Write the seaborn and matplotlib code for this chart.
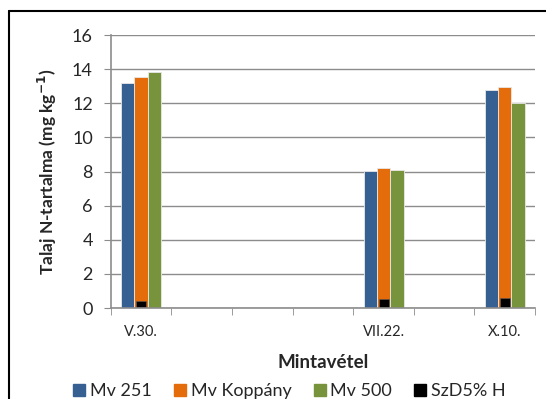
import pandas as pd
import seaborn as sns
import matplotlib.pyplot as plt
from matplotlib.lines import Line2D
from matplotlib.ticker import FixedLocator

slots = ["s0", "s1", "s2", "s3", "s4", "s5", "s6"]
slot_labels = ["V.30.", "", "", "", "VII.22.", "", "X.10."]
sampled = ["s0", "s4", "s6"]
mv251 = [13.2, 8.05, 12.8]
koppany = [13.55, 8.18, 12.95]
mv500 = [13.85, 8.12, 12.0]
szd5 = [0.43, 0.53, 0.57]

varieties = ["Mv 251", "Mv Koppány", "Mv 500"]
colors = ["#376092", "#E46C0A", "#77933C"]

rows = []
for name, vals in zip(varieties, [mv251, koppany, mv500]):
    for s, v in zip(sampled, vals):
        rows.append({"slot": s, "fajta": name, "N": v})
df = pd.DataFrame(rows)
df_szd = pd.DataFrame({"slot": sampled, "N": szd5})

sns.set_style("white")
plt.rcParams["font.family"] = ["Lato", "DejaVu Sans"]

fig = plt.figure(figsize=(5.46, 3.99), dpi=100)
ax = fig.add_axes([0.203, 0.228, 0.777, 0.684])

sns.barplot(data=df, x="slot", y="N", hue="fajta", order=slots,
            hue_order=varieties, palette=colors, saturation=1, width=0.66,
            edgecolor="#e8e8e8", linewidth=0.6, ax=ax, legend=False)
sns.barplot(data=df_szd, x="slot", y="N", order=slots, color="black",
            saturation=1, width=0.165, edgecolor="#606060", linewidth=0.4,
            ax=ax)

ax.set_xlim(-0.5, len(slots) - 0.5)
ax.set_ylim(0, 16)
ax.set_yticks(range(0, 17, 2))
ax.yaxis.grid(True, color="#8c8c8c", linewidth=1)
ax.set_axisbelow(True)
ax.tick_params(axis="y", length=5, color="#8c8c8c", labelsize=13, pad=8,
               left=True)

ax.set_xticks(range(len(slots)))
ax.set_xticklabels(slot_labels, fontsize=10.5)
ax.tick_params(axis="x", length=0, pad=12)
ax.xaxis.set_minor_locator(FixedLocator([i - 0.5 for i in range(len(slots) + 1)]))
ax.tick_params(axis="x", which="minor", length=5, color="#8c8c8c", bottom=True)

for side in ["top", "right"]:
    ax.spines[side].set_visible(False)
for side in ["left", "bottom"]:
    ax.spines[side].set_color("#8c8c8c")
    ax.spines[side].set_linewidth(1.2)

ax.set_xlabel("Mintavétel", fontsize=13.5, fontweight="bold", labelpad=11)
ax.set_ylabel("Talaj N-tartalma (mg kg$^{\\mathbf{-1}}$)", fontsize=12.5,
              fontweight="bold", labelpad=9)

handles = [Line2D([], [], marker="s", linestyle="", markersize=9, color=c)
           for c in colors + ["black"]]
fig.legend(handles, varieties + ["SzD5% H"], loc="center", ncol=4,
           bbox_to_anchor=(0.53, 0.02), frameon=False, fontsize=13,
           handlelength=0.7, handletextpad=0.25, columnspacing=1.2,
           borderaxespad=0)

# chart border (left and top visible)
fig.add_artist(Line2D([9 / 546, 9 / 546], [0, 1 - 11 / 399],
                      transform=fig.transFigure, color="black", linewidth=1.5))
fig.add_artist(Line2D([9 / 546, 1], [1 - 11 / 399, 1 - 11 / 399],
                      transform=fig.transFigure, color="black", linewidth=1.5))

fig.savefig("out.png", dpi=100)
